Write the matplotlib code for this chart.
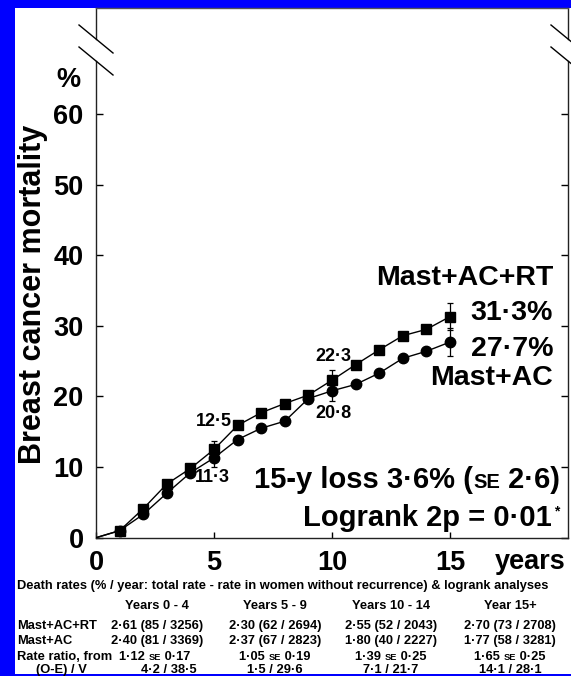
import matplotlib
matplotlib.use("Agg")
import matplotlib.pyplot as plt
from matplotlib.patches import Rectangle
from matplotlib.lines import Line2D
from matplotlib.offsetbox import TextArea, HPacker, AnnotationBbox

plt.rcParams['font.family'] = ['Liberation Sans', 'DejaVu Sans']
plt.rcParams['font.weight'] = 'bold'

# ---------------- data ----------------
years = [0, 1, 2, 3, 4, 5, 6, 7, 8, 9, 10, 11, 12, 13, 14, 15]
mast_ac_rt = [0, 1.0, 4.1, 7.6, 9.8, 12.5, 15.9, 17.7, 19.0, 20.2, 22.3, 24.5, 26.6, 28.6, 29.5, 31.3]
mast_ac = [0, 1.0, 3.3, 6.3, 9.2, 11.3, 13.9, 15.5, 16.5, 19.7, 20.8, 21.7, 23.3, 25.4, 26.4, 27.7]
err_years = [5, 10, 15]
rt_err_vals = [12.5, 22.3, 31.3]
ac_err_vals = [11.3, 20.8, 27.7]
rt_se = [1.2, 1.5, 1.9]
ac_se = [1.3, 1.4, 2.0]
y_ticks = [0, 10, 20, 30, 40, 50, 60]
x_ticks = [0, 5, 10, 15]

table_cols = ["Years 0 - 4", "Years 5 - 9", "Years 10 - 14", "Year 15+"]
row_rt = ["2·61 (85 / 3256)", "2·30 (62 / 2694)", "2·55 (52 / 2043)", "2·70 (73 / 2708)"]
row_ac = ["2·40 (81 / 3369)", "2·37 (67 / 2823)", "1·80 (40 / 2227)", "1·77 (58 / 3281)"]
rr_vals = [("1·12", "0·17"), ("1·05", "0·19"), ("1·39", "0·25"), ("1·65", "0·25")]
oe_vals = ["4·2 / 38·5", "1·5 / 29·6", "7·1 / 21·7", "14·1 / 28·1"]

W, H = 571, 676
fig = plt.figure(figsize=(W / 100, H / 100), dpi=100, facecolor='#0000ff')
fig.patches.append(Rectangle((15 / W, 2 / H), 1 - 15 / W, 1 - 10 / H,
                             transform=fig.transFigure, facecolor='white',
                             edgecolor='none', zorder=-5))

ax_l, ax_r, ax_t, ax_b = 96, 568, 8, 537.7
ax = fig.add_axes([ax_l / W, 1 - ax_b / H, (ax_r - ax_l) / W, (ax_b - ax_t) / H])
ax.set_zorder(2)
ax.set_facecolor('none')
ax.set_xlim(0, 20)
ax.set_ylim(0, 75)

lw = 1.0
ax.plot(years, mast_ac_rt, color='black', lw=lw, marker='s', ms=6.8,
        markevery=list(range(1, len(years))), zorder=3)
ax.plot(years, mast_ac, color='black', lw=lw, marker='o', ms=7.5,
        markevery=list(range(1, len(years))), zorder=3)
ax.errorbar(err_years, rt_err_vals, yerr=rt_se, fmt='none', ecolor='black',
            elinewidth=0.9, capsize=2.5, capthick=0.9, zorder=2)
ax.errorbar(err_years, ac_err_vals, yerr=ac_se, fmt='none', ecolor='black',
            elinewidth=0.9, capsize=2.5, capthick=0.9, zorder=2)

# spines
for s in ['left', 'right']:
    ax.spines[s].set_visible(False)
ax.spines['top'].set_color('#555555')
ax.spines['bottom'].set_color('#222222')
ax.spines['top'].set_linewidth(1.0)
ax.spines['bottom'].set_linewidth(1.0)

# broken vertical spines with slashes
def fy(px):
    return (ax_b - px) / (ax_b - ax_t)

def fx(px):
    return (px - ax_l) / (ax_r - ax_l)

for xs in [0, 1]:
    ax.add_line(Line2D([xs, xs], [0, fy(61)], transform=ax.transAxes,
                       color='#222222', lw=1.0, clip_on=False))
    ax.add_line(Line2D([xs, xs], [fy(39), 1], transform=ax.transAxes,
                       color='#222222', lw=1.0, clip_on=False))
    px0 = ax_l if xs == 0 else ax_r
    for y0 in [25, 47]:
        ax.add_line(Line2D([fx(px0 - 17), fx(px0 + 17)], [fy(y0), fy(y0 + 28)],
                           transform=ax.transAxes, color='black', lw=1.0,
                           clip_on=False))

ax.set_yticks(y_ticks)
ax.set_yticklabels([str(v) for v in y_ticks], fontsize=19.5, fontweight='bold')
ax.set_xticks(x_ticks)
ax.set_xticklabels([str(v) for v in x_ticks], fontsize=19.5, fontweight='bold')
ax.tick_params(axis='y', direction='in', length=5, width=1, left=True, right=True,
               pad=9)
ax.tick_params(axis='x', direction='in', length=4, width=1, pad=9)

fig.text(566 / W, 1 - 562 / H, "years", fontsize=19.5, fontweight='bold',
         ha='right', va='center')

fig.text(68 / W, 1 - 80 / H, "%", fontsize=19.5, fontweight='bold',
         ha='center', va='center')
fig.text(33 / W, 1 - 294 / H, "Breast cancer mortality", fontsize=22,
         fontweight='bold', rotation=90, ha='center', va='center')

# annotations at points
ax.text(5.0, 16.4, "12·5", fontsize=13, ha='center', va='center', fontweight='bold')
ax.text(4.95, 8.5, "11·3", fontsize=13, ha='center', va='center', fontweight='bold')
ax.text(10.05, 25.6, "22·3", fontsize=13, ha='center', va='center', fontweight='bold')
ax.text(10.05, 17.6, "20·8", fontsize=13, ha='center', va='center', fontweight='bold')

def dx(px):
    return (px - ax_l) / (ax_r - ax_l) * 20

def dy(px):
    return (ax_b - px) / (ax_b - ax_t) * 75

xr = dx(553)
fs_r = 20.5
ax.text(xr, dy(278), "Mast+AC+RT", fontsize=fs_r, ha='right', va='center', fontweight='bold')
ax.text(xr, dy(313), "31·3%", fontsize=fs_r, ha='right', va='center', fontweight='bold')
ax.text(xr, dy(349), "27·7%", fontsize=fs_r, ha='right', va='center', fontweight='bold')
ax.text(xr, dy(378), "Mast+AC", fontsize=fs_r, ha='right', va='center', fontweight='bold')

big = dict(fontsize=21, fontweight='bold', color='black')
small = dict(fontsize=14.5, fontweight='bold', color='black')
hp = HPacker(children=[TextArea("15-y loss 3·6% (", textprops=big),
                       TextArea("SE", textprops=small),
                       TextArea(" 2·6)", textprops=big)],
             align='baseline', pad=0, sep=0)
ax.add_artist(AnnotationBbox(hp, (dx(560), dy(480)), xycoords='data', frameon=False,
                             box_alignment=(1, 0.5), pad=0))
hp2 = HPacker(children=[TextArea("Logrank 2p = 0·01", textprops=big),
                        TextArea("*", textprops=dict(fontsize=10, fontweight='bold'))],
              align='top', pad=0, sep=1)
ax.add_artist(AnnotationBbox(hp2, (dx(559), dy(518)), xycoords='data', frameon=False,
                             box_alignment=(1, 0.5), pad=0))

# ---------------- table ----------------
tfs = 9.3
def fyp(px):
    return 1 - px / H

fig.text(17 / W, fyp(586), "Death rates (% / year: total rate - rate in women without recurrence) & logrank analyses",
         fontsize=tfs, ha='left', va='center', fontweight='bold')
col_x = [157, 275, 391, 510]
for cx, c in zip(col_x, table_cols):
    fig.text(cx / W, fyp(606), c, fontsize=tfs, ha='center', va='center', fontweight='bold')
fig.text(17 / W, fyp(626), "Mast+AC+RT", fontsize=tfs, ha='left', va='center', fontweight='bold')
fig.text(17 / W, fyp(641), "Mast+AC", fontsize=tfs, ha='left', va='center', fontweight='bold')
fig.text(17 / W, fyp(657), "Rate ratio, from", fontsize=tfs, ha='left', va='center', fontweight='bold')
fig.text(61 / W, fyp(670), "(O-E) / V", fontsize=tfs, ha='center', va='center', fontweight='bold')
for i, cx in enumerate(col_x):
    fig.text(cx / W, fyp(626), row_rt[i], fontsize=tfs, ha='center', va='center', fontweight='bold')
    fig.text(cx / W, fyp(641), row_ac[i], fontsize=tfs, ha='center', va='center', fontweight='bold')
    tp = dict(fontsize=tfs, fontweight='bold')
    sp = dict(fontsize=tfs * 0.72, fontweight='bold')
    hpr = HPacker(children=[TextArea(rr_vals[i][0] + " ", textprops=tp),
                            TextArea("SE", textprops=sp),
                            TextArea(" " + rr_vals[i][1], textprops=tp)],
                  align='baseline', pad=0, sep=0)
    rx = cx if i > 0 else 155
    fig.add_artist(AnnotationBbox(hpr, (rx / W, fyp(657)), xycoords='figure fraction',
                                  frameon=False, box_alignment=(0.5, 0.5), pad=0))
    ox = cx if i > 0 else 169
    fig.text(ox / W, fyp(670), oe_vals[i], fontsize=tfs, ha='center', va='center', fontweight='bold')

fig.savefig("out.png", dpi=100, facecolor=fig.get_facecolor())
